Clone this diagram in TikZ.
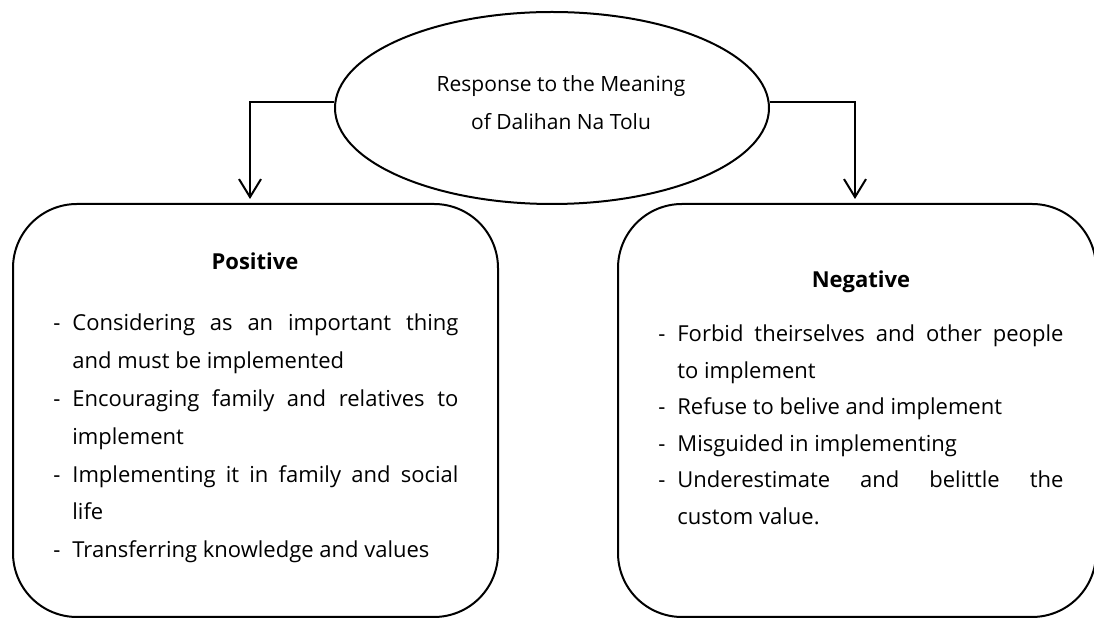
\documentclass[tikz,border=0pt]{standalone}
\usepackage{fontspec}
\setmainfont{Open Sans}
\usetikzlibrary{shapes.geometric,arrows.meta}

% one item of a list: a dash, then the text hanging after it
\newlength{\dashw}
\setlength{\dashw}{9.5pt}
\newcommand{\itm}[1]{\noindent\hangindent=\dashw\hangafter=1\makebox[\dashw][l]{-}#1\par}

\tikzset{
  ovalbox/.style={draw, ellipse, line width=1pt, inner sep=0pt,
    minimum width=217pt, minimum height=96pt},
  roundbox/.style={draw, line width=1pt, rounded corners=32pt, inner sep=0pt,
    minimum height=206.5pt},
  title/.style={font=\bfseries\fontsize{11}{13}\selectfont, anchor=base},
  itemlist/.style={text width=202.5pt, align=justify, inner sep=0pt, anchor=base west},
  arr/.style={line width=1pt, -{Straight Barb[length=9pt,width=11pt]}}
}

\begin{document}
\begin{tikzpicture}[x=0.5pt, y=-0.5pt]
\useasboundingbox (0,0) rectangle (1094,619);
\clip (0,0) rectangle (1094,619);

% the question in the middle
\node[ovalbox] (resp) at (552,108) {};
\node[align=center, font=\fontsize{10.5}{19}\selectfont] (resptxt) at (561,103)
  {Response to the Meaning\\of Dalihan Na Tolu};

% the two answers
\node[roundbox, minimum width=242.5pt] (pos) at (255.5,410.5) {};
\node[roundbox, minimum width=239pt] (neg) at (857,410.5) {};

\node[title] (postitle) at (255,270) {Positive};
\node[itemlist, font=\fontsize{11}{18.9}\selectfont] (poslist) at (53,331) {%
  \itm{Considering as an important thing\linebreak and must be implemented}
  \itm{Encouraging family and relatives to\linebreak implement}
  \itm{Implementing it in family and social\linebreak life}
  \itm{Transferring knowledge and values}};

\node[title] (negtitle) at (861,288) {Negative};
\node[itemlist, font=\fontsize{11}{18.25}\selectfont] (neglist) at (658,342) {%
  \itm{Forbid theirselves and other people\linebreak to implement}
  \itm{Refuse to belive and implement}
  \itm{Misguided in implementing}
  \itm{Underestimate and belittle the\linebreak custom value.}};

% arrows from the question down to each box
\draw[arr] ([yshift=3pt]resp.west) -| ([xshift=-2.75pt, yshift=2pt]pos.north);
\draw[arr] ([yshift=3pt]resp.east) -| ([xshift=-1pt, yshift=2pt]neg.north);
\end{tikzpicture}
\end{document}
